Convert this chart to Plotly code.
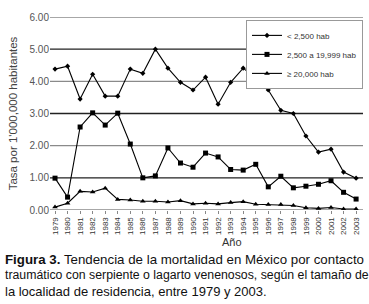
import plotly.graph_objects as go

years = list(range(1979, 2004))
s_small = [4.38, 4.47, 3.45, 4.22, 3.54, 3.54, 4.38, 4.25, 5.00, 4.41, 3.97,
           3.73, 4.13, 3.29, 3.97, 4.41, 4.10, 3.73, 3.10, 3.00, 2.30, 1.80, 1.89, 1.18, 0.99]
s_mid = [0.99, 0.40, 2.58, 3.02, 2.64, 3.01, 2.05, 1.00, 1.06, 1.93, 1.46,
         1.33, 1.77, 1.65, 1.26, 1.24, 1.42, 0.72, 1.05, 0.69, 0.74, 0.80, 0.91, 0.55, 0.34]
s_big = [0.09, 0.21, 0.58, 0.56, 0.68, 0.33, 0.31, 0.27, 0.27, 0.25, 0.29,
         0.19, 0.21, 0.19, 0.23, 0.26, 0.18, 0.17, 0.17, 0.14, 0.07, 0.05, 0.08, 0.03, 0.03]
names = ["< 2,500 hab", "2,500 a 19,999 hab", "≥ 20,000 hab"]
y_ticks = [0, 1, 2, 3, 4, 5, 6]
y_ticklabels = ["0.00", "1.00", "2.00", "3.00", "4.00", "5.00", "6.00"]
dark_grid = [1, 3, 5]
light_grid = [0, 2, 4, 6]

FONT = "Liberation Sans, Arial, sans-serif"
fig = go.Figure()

for v in light_grid:
    fig.add_shape(type="line", xref="paper", x0=0, x1=1, yref="y", y0=v, y1=v,
                  line=dict(color="#8a8a8a", width=1.3), layer="below")
for v in dark_grid:
    fig.add_shape(type="line", xref="paper", x0=0, x1=1, yref="y", y0=v, y1=v,
                  line=dict(color="#222222", width=1.3), layer="below")

symbols = ["diamond", "square", "triangle-up"]
sizes = [4, 5, 5]
for name, ys, sym, sz in zip(names, [s_small, s_mid, s_big], symbols, sizes):
    fig.add_trace(go.Scatter(x=years, y=ys, mode="lines+markers", name=name,
                             line=dict(color="black", width=1.1),
                             marker=dict(symbol=sym, size=sz, color="black")))

fig.update_layout(
    width=369, height=304,
    margin=dict(l=50, r=6, t=17, b=94),
    paper_bgcolor="white", plot_bgcolor="white",
    font=dict(family=FONT, color="#333"),
    showlegend=True,
    legend=dict(x=1, y=0.985, xanchor="right", yanchor="top",
                bgcolor="white", bordercolor="#999", borderwidth=1,
                font=dict(size=8, color="#333", family=FONT),
                itemwidth=30, tracegroupgap=0),
    xaxis=dict(range=[1978.6, 2003.55], tickmode="array", tickvals=years,
               ticktext=[str(y) for y in years], tickangle=-90,
               tickfont=dict(size=8, color="#333"), showgrid=False,
               showline=False, zeroline=False, ticks="outside", ticklen=3,
               tickcolor="#888"),
    yaxis=dict(range=[0, 6], tickmode="array", tickvals=y_ticks,
               ticktext=y_ticklabels, tickfont=dict(size=10, color="#555"),
               showgrid=False, zeroline=False, showline=False,
               title=dict(text="Tasa por 1'000,000 habitantes",
                          font=dict(size=11.5, color="#444"), standoff=9)),
)

fig.add_annotation(text="Año", xref="paper", yref="paper", x=0.58, y=-0.165,
                   xanchor="center", yanchor="middle", showarrow=False,
                   font=dict(size=11, color="#333", family=FONT))

cap = ["<b>Figura 3.</b> Tendencia de la mortalidad en México por contacto",
       "traumático con serpiente o lagarto venenosos, según el tamaño de",
       "la localidad de residencia, entre 1979 y 2003."]
cap_y = [259, 275, 291]
cap_size = [13.3, 12.3, 13.0]
for t, yy, fs in zip(cap, cap_y, cap_size):
    fig.add_annotation(text=t, xref="paper", yref="paper",
                       x=(3 - 50) / 313, y=(210 - yy) / 193,
                       xanchor="left", yanchor="middle", showarrow=False,
                       font=dict(size=fs, color="#111", family=FONT))

fig.write_html("out.html", config={"displayModeBar": False},
               post_script="document.body.style.margin='0';")
